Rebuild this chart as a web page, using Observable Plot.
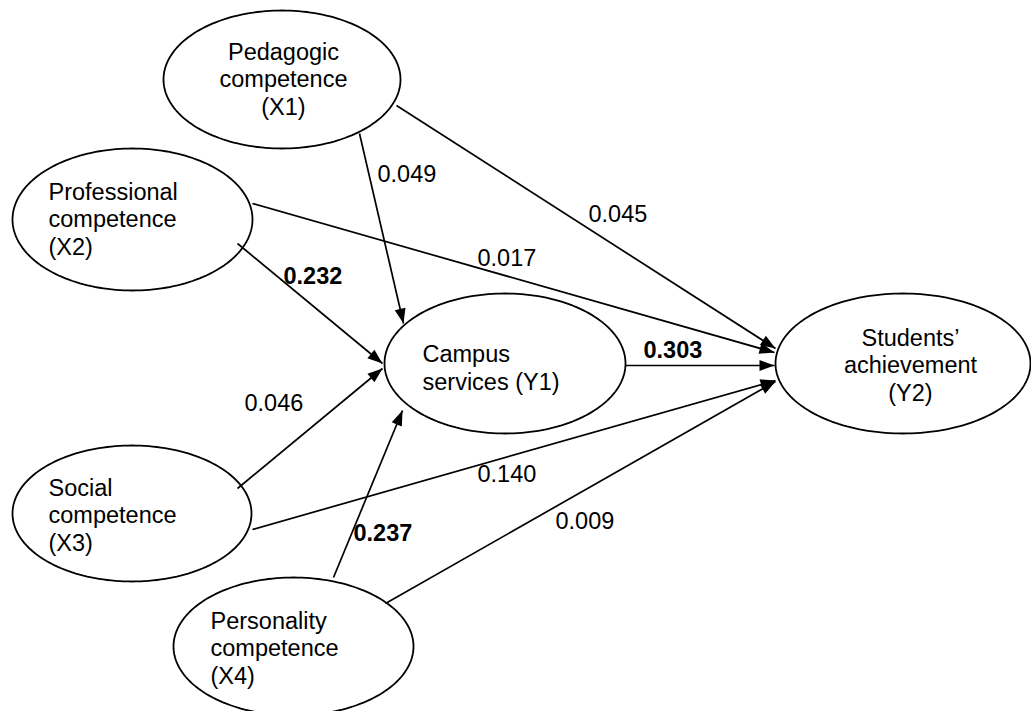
<!DOCTYPE html>
<html>
<head>
<meta charset="utf-8">
<script src="https://cdn.jsdelivr.net/npm/d3@7"></script>
<script src="https://cdn.jsdelivr.net/npm/@observablehq/plot@0.6"></script>
<style>
  html, body { margin: 0; padding: 0; background: #fff; }
  #chart svg { display: block; }
</style>
</head>
<body>
<div id="chart"></div>
<script>
// ---------- DATA ----------
const nodeIds = ["X1", "X2", "X3", "X4", "Y1", "Y2"];
const nodeLabels = [
  "Pedagogic\ncompetence\n(X1)",
  "Professional\ncompetence\n(X2)",
  "Social\ncompetence\n(X3)",
  "Personality\ncompetence\n(X4)",
  "Campus\nservices (Y1)",
  "Students’\nachievement\n(Y2)"
];
const pathFrom = ["X1", "X1", "X2", "X2", "X3", "X3", "X4", "X4", "Y1"];
const pathTo   = ["Y1", "Y2", "Y1", "Y2", "Y1", "Y2", "Y1", "Y2", "Y2"];
const pathCoef = ["0.049", "0.045", "0.232", "0.017", "0.046", "0.140", "0.237", "0.009", "0.303"];
const pathSignificant = [false, false, true, false, false, false, true, false, true];

// ---------- LAYOUT (positions / sizes, kept apart from the data) ----------
const W = 1031, H = 711;
const nodeLayout = {
  X1: {cx: 281.5, cy: 79,  rx: 118.5, ry: 69, tx: 283, ty: 114, anchor: "middle"},
  X2: {cx: 132,   cy: 219, rx: 120,   ry: 71, tx: 48,  ty: 254, anchor: "start"},
  X3: {cx: 131.5, cy: 513, rx: 119.5, ry: 68, tx: 48,  ty: 550, anchor: "start"},
  X4: {cx: 293,   cy: 646, rx: 120,   ry: 69, tx: 210, ty: 683, anchor: "start"},
  Y1: {cx: 504.5, cy: 363, rx: 120.5, ry: 70, tx: 422, ty: 389, anchor: "start"},
  Y2: {cx: 902.5, cy: 363, rx: 127.5, ry: 70, tx: 910, ty: 400, anchor: "middle"}
};
const edgeLayout = {
  "X1-Y1": {x1: 359, y1: 133, x2: 403, y2: 323, lx: 377, ly: 181},
  "X1-Y2": {x1: 396, y1: 105, x2: 775, y2: 348, lx: 588, ly: 221},
  "X2-Y1": {x1: 237, y1: 243, x2: 382, y2: 363, lx: 283, ly: 283},
  "X2-Y2": {x1: 252, y1: 203, x2: 774, y2: 352, lx: 477, ly: 265},
  "X3-Y1": {x1: 237, y1: 488, x2: 382, y2: 368, lx: 244, ly: 410},
  "X3-Y2": {x1: 252, y1: 529, x2: 775, y2: 380, lx: 477, ly: 481},
  "X4-Y1": {x1: 333, y1: 577, x2: 402, y2: 410, lx: 353, ly: 540},
  "X4-Y2": {x1: 385, y1: 603, x2: 775, y2: 381, lx: 555, ly: 528},
  "Y1-Y2": {x1: 625, y1: 365, x2: 774, y2: 365, lx: 643, ly: 357}
};

// ---------- BUILD TABLES ----------
const nodes = nodeIds.map((id, i) => ({id, label: nodeLabels[i], ...nodeLayout[id]}));
const ellipsePts = nodes.flatMap(n =>
  d3.range(0, 361, 2).map(a => ({
    id: n.id,
    x: n.cx + n.rx * Math.cos(a * Math.PI / 180),
    y: n.cy + n.ry * Math.sin(a * Math.PI / 180)
  }))
);
const edges = pathFrom.map((f, i) => {
  const key = f + "-" + pathTo[i];
  const L = edgeLayout[key];
  const dx = L.x2 - L.x1, dy = L.y2 - L.y1;
  return {
    key, coef: pathCoef[i], sig: pathSignificant[i], ...L,
    angle: Math.atan2(dx, -dy) * 180 / Math.PI
  };
});

// filled arrowhead, tip at origin, pointing "up" before rotation
const arrowHead = {
  draw(context) {
    const len = 15, half = 5.5;
    context.moveTo(0, 0);
    context.lineTo(-half, len);
    context.lineTo(half, len);
    context.closePath();
  }
};

const font = "'Liberation Sans', Arial, Helvetica, sans-serif";
const fs = 23.5;

const chart = Plot.plot({
  width: W,
  height: H,
  margin: 0,
  x: {domain: [0, W], range: [0, W], axis: null},
  y: {domain: [0, H], range: [0, H], axis: null},
  style: {fontFamily: font, background: "#fff", color: "#000"},
  marks: [
    Plot.line(ellipsePts, {x: "x", y: "y", z: "id", stroke: "#000", strokeWidth: 1.8}),
    Plot.link(edges, {x1: "x1", y1: "y1", x2: "x2", y2: "y2", stroke: "#000", strokeWidth: 1.7}),
    Plot.dot(edges, {x: "x2", y: "y2", rotate: "angle", symbol: arrowHead, fill: "#000", stroke: "none"}),
    Plot.text(nodes.filter(n => n.anchor === "middle"), {
      x: "tx", y: "ty", text: "label", textAnchor: "middle", lineAnchor: "bottom",
      lineHeight: 1.15, fontSize: fs, fill: "#000"
    }),
    Plot.text(nodes.filter(n => n.anchor === "start"), {
      x: "tx", y: "ty", text: "label", textAnchor: "start", lineAnchor: "bottom",
      lineHeight: 1.15, fontSize: fs, fill: "#000"
    }),
    Plot.text(edges.filter(e => !e.sig), {
      x: "lx", y: "ly", text: "coef", textAnchor: "start", lineAnchor: "bottom",
      fontSize: fs, fill: "#000"
    }),
    Plot.text(edges.filter(e => e.sig), {
      x: "lx", y: "ly", text: "coef", textAnchor: "start", lineAnchor: "bottom",
      fontSize: fs, fontWeight: "bold", fill: "#000"
    })
  ]
});
document.getElementById("chart").appendChild(chart);
</script>
</body>
</html>
